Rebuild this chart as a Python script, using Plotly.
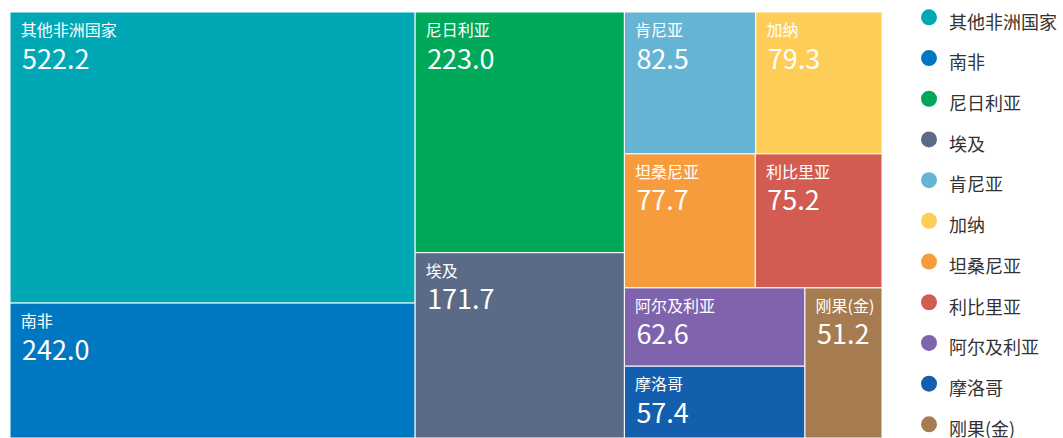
import plotly.graph_objects as go

countries = ["其他非洲国家", "南非", "尼日利亚", "埃及", "肯尼亚", "加纳",
             "坦桑尼亚", "利比里亚", "阿尔及利亚", "摩洛哥", "刚果(金)"]
values = [522.2, 242.0, 223.0, 171.7, 82.5, 79.3, 77.7, 75.2, 62.6, 57.4, 51.2]
colors = ["#00a8b5", "#0078c1", "#00a85a", "#5b6a86", "#66b4d4", "#fecd57",
          "#f79c3d", "#d35c52", "#7f63ad", "#135fae", "#a67b50"]

W, H = 1063, 438
FONT = "Noto Sans CJK SC"
NB = "\u00a0"

label_line = ("<span style='font-size:18px'>" + NB + "</span>"
              "<span style='font-size:16px'>" + NB + "%{label}</span>")
value_line = ("<span style='font-size:27px'>" + NB + "</span>"
              "<span style='font-size:13px'>" + NB + "</span>"
              "<span style='font-size:27px'>%{value:.1f}</span>")

fig = go.Figure()
fig.add_trace(go.Treemap(
    labels=countries,
    parents=[""] * len(countries),
    values=values,
    marker=dict(colors=colors, line=dict(color="white", width=1),
                pad=dict(t=0, l=0, r=0, b=0)),
    texttemplate=label_line + "<br>" + value_line,
    textposition="top left",
    textfont=dict(family=FONT, size=25, color="white"),
    domain=dict(x=[10 / W, 882 / W], y=[0, 426 / H]),
    sort=True,
    tiling=dict(packing="squarify", squarifyratio=1.5, pad=0),
    pathbar=dict(visible=False),
    hoverinfo="label+value",
))

for i, (c, col) in enumerate(zip(countries, colors)):
    fig.add_trace(go.Scatter(
        x=[None], y=[None], mode="markers",
        name="<span style='font-size:18px'>" + c + "</span>",
        marker=dict(size=17, color=col, symbol="circle"),
        showlegend=True,
    ))

fig.update_layout(
    width=W, height=H,
    margin=dict(l=0, r=0, t=0, b=0, autoexpand=False),
    paper_bgcolor="white", plot_bgcolor="white",
    font=dict(family=FONT),
    xaxis=dict(visible=False), yaxis=dict(visible=False),
    legend=dict(
        x=909 / W, y=1 + 8 / H, xanchor="left", yanchor="top",
        font=dict(family=FONT, size=29, color="#333333"),
        bgcolor="rgba(0,0,0,0)",
        maxheight=700,
    ),
)

fig.write_html("out.html")
